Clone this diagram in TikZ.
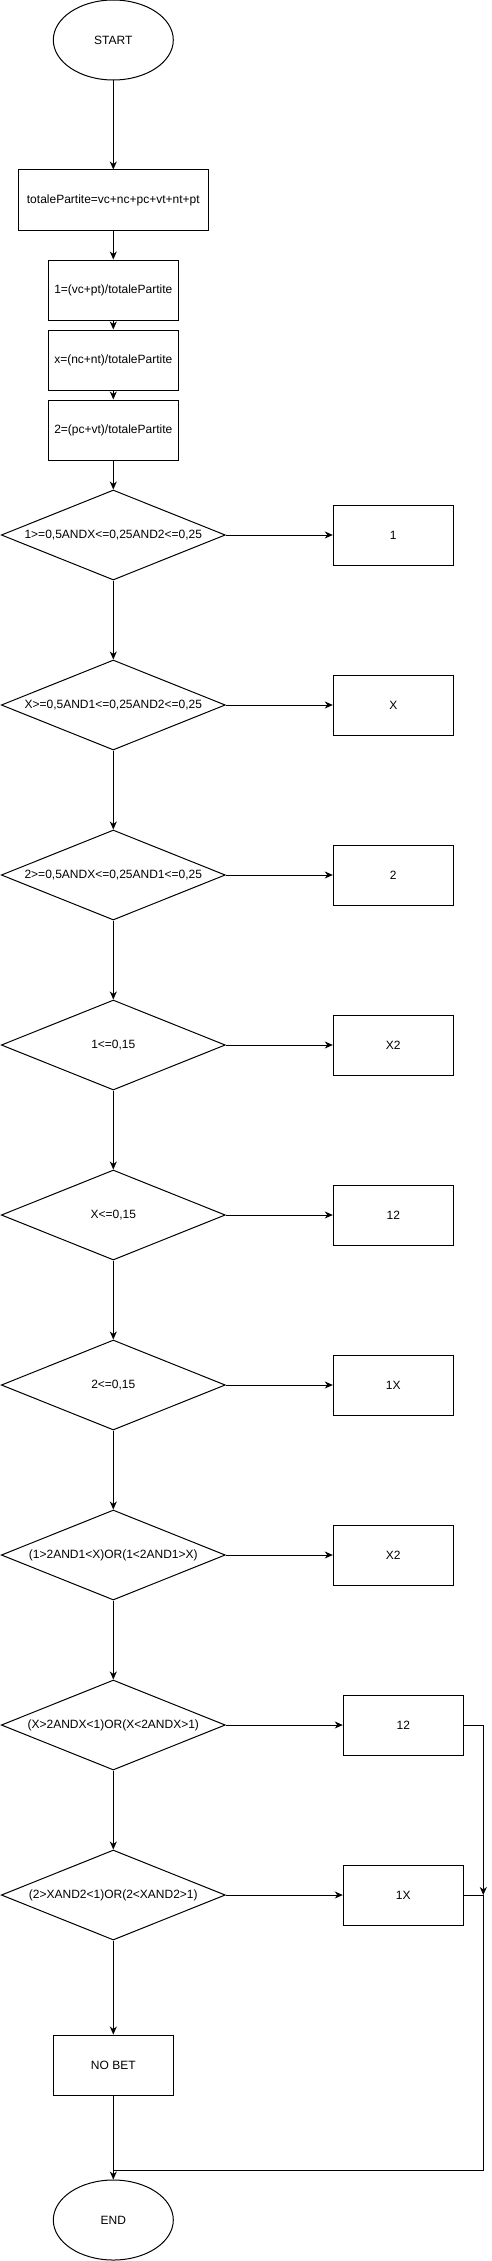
\documentclass[tikz,border=0pt]{standalone}
\usepackage{fontspec}
\setmainfont{Liberation Sans}
\usetikzlibrary{shapes.geometric,arrows.meta}
\begin{document}
\begin{tikzpicture}[x=1pt,y=-1pt,
  every node/.style={font=\fontsize{12pt}{14pt}\selectfont, line width=1pt, inner sep=0pt},
  term/.style={draw, ellipse, minimum width=120pt, minimum height=80pt},
  proc/.style={draw, rectangle, minimum height=60pt},
  dec/.style={draw, diamond, aspect=2.49, minimum width=224pt, minimum height=90pt},
  conn/.style={line width=1pt, -{Stealth[length=8pt,width=7pt,inset=2.5pt]}},
  plain/.style={line width=1pt}
]
\useasboundingbox (0,0) rectangle (492,2261);

\node[term] (start) at (113.3,40) {START};
\node[proc, minimum width=190pt] (tot) at (113.3,200) {totalePartite=vc+nc+pc+vt+nt+pt};
\node[proc, minimum width=130pt] (p1) at (113.3,290) {1=(vc+pt)/totalePartite};
\node[proc, minimum width=130pt] (px) at (113.3,360) {x=(nc+nt)/totalePartite};
\node[proc, minimum width=130pt] (p2) at (113.3,430) {2=(pc+vt)/totalePartite};

\node[dec] (d1) at (113.3,535) {1>=0,5ANDX<=0,25AND2<=0,25};
\node[dec] (d2) at (113.3,705) {X>=0,5AND1<=0,25AND2<=0,25};
\node[dec] (d3) at (113.3,875) {2>=0,5ANDX<=0,25AND1<=0,25};
\node[dec] (d4) at (113.3,1045) {1<=0,15};
\node[dec] (d5) at (113.3,1215) {X<=0,15};
\node[dec] (d6) at (113.3,1385) {2<=0,15};
\node[dec] (d7) at (113.3,1555) {(1>2AND1<X)OR(1<2AND1>X)};
\node[dec] (d8) at (113.3,1725) {(X>2ANDX<1)OR(X<2ANDX>1)};
\node[dec] (d9) at (113.3,1895) {(2>XAND2<1)OR(2<XAND2>1)};

\node[proc, minimum width=120pt] (o1) at (393.3,535) {1};
\node[proc, minimum width=120pt] (o2) at (393.3,705) {X};
\node[proc, minimum width=120pt] (o3) at (393.3,875) {2};
\node[proc, minimum width=120pt] (o4) at (393.3,1045) {X2};
\node[proc, minimum width=120pt] (o5) at (393.3,1215) {12};
\node[proc, minimum width=120pt] (o6) at (393.3,1385) {1X};
\node[proc, minimum width=120pt] (o7) at (393.3,1555) {X2};
\node[proc, minimum width=120pt] (o8) at (403.3,1725) {12};
\node[proc, minimum width=120pt] (o9) at (403.3,1895) {1X};

\node[proc, minimum width=120pt] (nobet) at (113.3,2065) {NO BET};
\node[term] (end) at (113.3,2220) {END};

\coordinate (j1) at (483.3,1725);
\coordinate (j2) at (483.3,1895);
\coordinate (j3) at (483.3,2170);
\coordinate (j4) at (113.3,2170);

\draw[conn] (start) -- (tot);
\draw[conn] (tot) -- (p1);
\draw[conn] (p1) -- (px);
\draw[conn] (px) -- (p2);
\draw[conn] (p2) -- (d1);
\draw[conn] (d1) -- (d2);
\draw[conn] (d2) -- (d3);
\draw[conn] (d3) -- (d4);
\draw[conn] (d4) -- (d5);
\draw[conn] (d5) -- (d6);
\draw[conn] (d6) -- (d7);
\draw[conn] (d7) -- (d8);
\draw[conn] (d8) -- (d9);
\draw[conn] (d9) -- (nobet);
\draw[conn] (nobet) -- (end);

\draw[conn] (d1.east) -- (o1.west);
\draw[conn] (d2.east) -- (o2.west);
\draw[conn] (d3.east) -- (o3.west);
\draw[conn] (d4.east) -- (o4.west);
\draw[conn] (d5.east) -- (o5.west);
\draw[conn] (d6.east) -- (o6.west);
\draw[conn] (d7.east) -- (o7.west);
\draw[conn] (d8.east) -- (o8.west);
\draw[conn] (d9.east) -- (o9.west);

\draw[conn] (o8.east) -- (j1) -- (j2);
\draw[plain] (o9.east) -- (j2) -- (j3) -- (j4);
\end{tikzpicture}
\end{document}
